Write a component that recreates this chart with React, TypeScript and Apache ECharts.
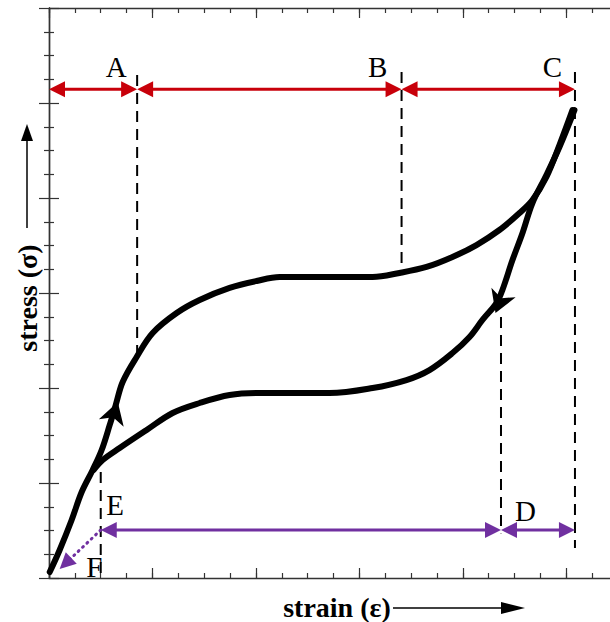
import React, { useEffect, useRef } from "react";
import * as echarts from "echarts";

// strain (x) / stress (y) in axis units (x major tick = 1, y major tick = 1)
const loadingCurve: number[][] = [
  [0.007, 0.063], [0.103, 0.295], [0.219, 0.611], [0.316, 0.905], [0.422, 1.137],
  [0.509, 1.347], [0.587, 1.611], [0.645, 1.821], [0.712, 2.063], [0.847, 2.326],
  [1.002, 2.579], [1.234, 2.789], [1.456, 2.926], [1.746, 3.053], [2.007, 3.126],
  [2.229, 3.168], [2.905, 3.168], [3.128, 3.168], [3.388, 3.211], [3.649, 3.274],
  [3.9, 3.379], [4.132, 3.505], [4.354, 3.663], [4.548, 3.842], [4.673, 3.979],
  [4.808, 4.221], [4.934, 4.558], [5.06, 4.926],
];

const unloadingCurve: number[][] = [
  [5.079, 4.926], [4.934, 4.537], [4.808, 4.242], [4.673, 3.947], [4.577, 3.632],
  [4.48, 3.347], [4.383, 3.032], [4.326, 2.895], [4.19, 2.716], [4.065, 2.537],
  [3.9, 2.368], [3.678, 2.189], [3.455, 2.084], [3.128, 2.0], [2.712, 1.947],
  [2.035, 1.947], [1.746, 1.926], [1.456, 1.842], [1.195, 1.737], [0.944, 1.558],
  [0.683, 1.368], [0.519, 1.242], [0.432, 1.137],
];

// vertical dashed guides: [x, yTop, yBottom]
const dashedGuides: number[][] = [
  [0.852, 5.295, 2.33],
  [3.408, 5.326, 3.26],
  [5.084, 5.326, 0.316],
  [4.369, 2.747, 0.47],
  [0.5, 1.116, 0.0],
];

// double arrows: [x1, y1, x2, y2, headAtStart, headAtEnd]
const redArrows: number[][] = [
  [0.0, 5.144, 0.852, 5.144, 1, 1],
  [0.852, 5.144, 3.408, 5.144, 1, 1],
  [3.408, 5.144, 5.084, 5.144, 1, 1],
];
const purpleArrows: number[][] = [
  [0.5, 0.505, 4.369, 0.505, 1, 1],
  [4.369, 0.505, 5.084, 0.505, 1, 1],
];
const dottedArrows: number[][] = [[0.5, 0.505, 0.103, 0.095, 0, 1]];

// direction arrows on the loop: [xTip, yTip, xBehind, yBehind]
const flowArrows: number[][] = [
  [0.665, 1.853, 0.587, 1.579],
  [4.316, 2.789, 4.403, 3.032],
];

const letterNames = ["A", "B", "C", "D", "E", "F"];
const letterX = [0.649, 3.176, 4.867, 4.606, 0.64, 0.437];
const letterY = [5.379, 5.379, 5.379, 0.705, 0.768, 0.116];

const SERIF = "'Liberation Serif', 'Times New Roman', serif";
const AXIS_COLOR = "#333";
const RED = "#c8000a";
const PURPLE = "#7030a0";

function arrowRenderer(color: string, dash: number[] | null, lw: number) {
  return (params: any, api: any) => {
    const p1 = api.coord([api.value(0), api.value(1)]);
    const p2 = api.coord([api.value(2), api.value(3)]);
    const hs = api.value(4);
    const he = api.value(5);
    const dx = p2[0] - p1[0];
    const dy = p2[1] - p1[1];
    const len = Math.hypot(dx, dy) || 1;
    const ux = dx / len;
    const uy = dy / len;
    const L = 16;
    const W = 8;
    const head = (tip: number[], dirx: number, diry: number) => {
      const bx = tip[0] - dirx * L;
      const by = tip[1] - diry * L;
      return {
        type: "polygon",
        shape: {
          points: [
            [tip[0], tip[1]],
            [bx - diry * W, by + dirx * W],
            [bx + diry * W, by - dirx * W],
          ],
        },
        style: { fill: color },
      };
    };
    const s = hs ? [p1[0] + ux * L * 0.6, p1[1] + uy * L * 0.6] : p1;
    const e = he ? [p2[0] - ux * L * 0.6, p2[1] - uy * L * 0.6] : p2;
    const children: any[] = [
      {
        type: "line",
        shape: { x1: s[0], y1: s[1], x2: e[0], y2: e[1] },
        style: { stroke: color, lineWidth: lw, lineDash: dash || undefined, lineCap: dash ? "round" : "butt" },
      },
    ];
    if (hs) children.push(head(p1, -ux, -uy));
    if (he) children.push(head(p2, ux, uy));
    return { type: "group", children };
  };
}

export default function App() {
  const ref = useRef<HTMLDivElement>(null);
  useEffect(() => {
    if (!ref.current) return;
    const chart = echarts.init(ref.current, null, { renderer: "svg" });

    const tickStyle = { color: AXIS_COLOR, width: 1.2 };
    const xBase = {
      type: "value",
      min: 0,
      max: 5.5,
      axisLabel: { show: false },
      splitLine: { show: false },
    };
    const yBase = {
      type: "value",
      min: 0,
      max: 6,
      interval: 1,
      axisLine: { show: true, lineStyle: { color: AXIS_COLOR, width: 1.4 } },
      axisTick: { show: true, inside: true, length: 10, lineStyle: tickStyle },
      minorTick: { show: true, splitNumber: 4, length: 5, lineStyle: tickStyle },
      axisLabel: { show: false },
      splitLine: { show: false },
    };

    const option: any = {
      animation: false,
      backgroundColor: "#fff",
      grid: {
        left: 49,
        top: 8,
        height: 570,
        width: 569,
        containLabel: false,
        outerBoundsMode: "none",
      },
      xAxis: [
        {
          ...xBase, position: "bottom", interval: 0.25,
          axisLine: { show: true, lineStyle: { color: AXIS_COLOR, width: 1.4 } },
          axisTick: { show: true, inside: true, length: 5, lineStyle: tickStyle },
        },
        {
          ...xBase, position: "bottom", interval: 1,
          axisLine: { show: false },
          axisTick: { show: true, inside: true, length: 10, lineStyle: tickStyle },
        },
        {
          ...xBase, position: "top", interval: 0.25,
          axisLine: { show: true, lineStyle: { color: AXIS_COLOR, width: 1.4 } },
          axisTick: { show: true, inside: true, length: 5, lineStyle: tickStyle },
        },
        {
          ...xBase, position: "top", interval: 1,
          axisLine: { show: false },
          axisTick: { show: true, inside: true, length: 10, lineStyle: tickStyle },
        },
      ],
      yAxis: [
        { ...yBase, position: "left" },
        { ...yBase, position: "right" },
      ],
      graphic: [
        {
          type: "text",
          x: 337,
          y: 607,
          style: {
            text: "strain (ε)",
            font: `bold 28px ${SERIF}`,
            fill: "#000",
            textAlign: "center",
            textVerticalAlign: "middle",
          },
        },
        { type: "line", shape: { x1: 393, y1: 608, x2: 505, y2: 608 }, style: { stroke: "#000", lineWidth: 1.5 } },
        { type: "polygon", shape: { points: [[525, 608], [501, 602], [501, 614]] }, style: { fill: "#000" } },
        {
          type: "text",
          x: 27,
          y: 298,
          rotation: Math.PI / 2,
          style: {
            text: "stress (σ)",
            font: `bold 28px ${SERIF}`,
            fill: "#000",
            textAlign: "center",
            textVerticalAlign: "middle",
          },
        },
        { type: "line", shape: { x1: 27, y1: 228, x2: 27, y2: 138 }, style: { stroke: "#000", lineWidth: 1.5 } },
        { type: "polygon", shape: { points: [[27, 124], [21, 141], [33, 141]] }, style: { fill: "#000" } },
      ],
      series: [
        {
          type: "custom",
          name: "guides",
          coordinateSystem: "cartesian2d",
          data: dashedGuides,
          encode: { x: 0, y: [1, 2] },
          renderItem: (params: any, api: any) => {
            const a = api.coord([api.value(0), api.value(1)]);
            const b = api.coord([api.value(0), api.value(2)]);
            return {
              type: "line",
              shape: { x1: a[0], y1: a[1], x2: b[0], y2: b[1] },
              style: { stroke: "#000", lineWidth: 2, lineDash: [11, 7] },
            };
          },
          z: 1,
        },
        {
          type: "line",
          name: "loading",
          data: loadingCurve,
          smooth: 0.35,
          showSymbol: false,
          lineStyle: { color: "#000", width: 6, cap: "round", join: "round" },
          z: 3,
        },
        {
          type: "line",
          name: "unloading",
          data: unloadingCurve,
          smooth: 0.35,
          showSymbol: false,
          lineStyle: { color: "#000", width: 6, cap: "round", join: "round" },
          z: 3,
        },
        {
          type: "custom",
          name: "flow",
          coordinateSystem: "cartesian2d",
          data: flowArrows,
          encode: { x: [0, 2], y: [1, 3] },
          renderItem: (params: any, api: any) => {
            const tip = api.coord([api.value(0), api.value(1)]);
            const bh = api.coord([api.value(2), api.value(3)]);
            const dx = tip[0] - bh[0];
            const dy = tip[1] - bh[1];
            const len = Math.hypot(dx, dy) || 1;
            const ux = dx / len;
            const uy = dy / len;
            const L = 22;
            const W = 13;
            const bx = tip[0] - ux * L;
            const by = tip[1] - uy * L;
            const nx = tip[0] - ux * (L - 6);
            const ny = tip[1] - uy * (L - 6);
            return {
              type: "polygon",
              shape: {
                points: [
                  [tip[0], tip[1]],
                  [bx - uy * W, by + ux * W],
                  [nx, ny],
                  [bx + uy * W, by - ux * W],
                ],
              },
              style: { fill: "#000" },
            };
          },
          z: 4,
        },
        {
          type: "custom",
          name: "redArrows",
          coordinateSystem: "cartesian2d",
          data: redArrows,
          encode: { x: [0, 2], y: [1, 3] },
          renderItem: arrowRenderer(RED, null, 3),
          z: 5,
        },
        {
          type: "custom",
          name: "purpleArrows",
          coordinateSystem: "cartesian2d",
          data: purpleArrows,
          encode: { x: [0, 2], y: [1, 3] },
          renderItem: arrowRenderer(PURPLE, null, 3),
          z: 5,
        },
        {
          type: "custom",
          name: "dottedArrow",
          coordinateSystem: "cartesian2d",
          data: dottedArrows,
          encode: { x: [0, 2], y: [1, 3] },
          renderItem: arrowRenderer(PURPLE, [1, 5], 3),
          z: 5,
        },
        {
          type: "custom",
          name: "letters",
          coordinateSystem: "cartesian2d",
          data: letterX.map((x, i) => [x, letterY[i]]),
          encode: { x: 0, y: 1 },
          renderItem: (params: any, api: any) => {
            const p = api.coord([api.value(0), api.value(1)]);
            return {
              type: "text",
              x: p[0],
              y: p[1],
              style: {
                text: letterNames[params.dataIndex],
                font: `29px ${SERIF}`,
                fill: "#000",
                textAlign: "center",
                textVerticalAlign: "middle",
              },
            };
          },
          z: 6,
        },
      ],
    };
    chart.setOption(option);
    return () => chart.dispose();
  }, []);
  return (
    <div
      ref={ref}
      style={{ position: "fixed", left: 0, top: 0, width: 610, height: 622, background: "#fff" }}
    />
  );
}
